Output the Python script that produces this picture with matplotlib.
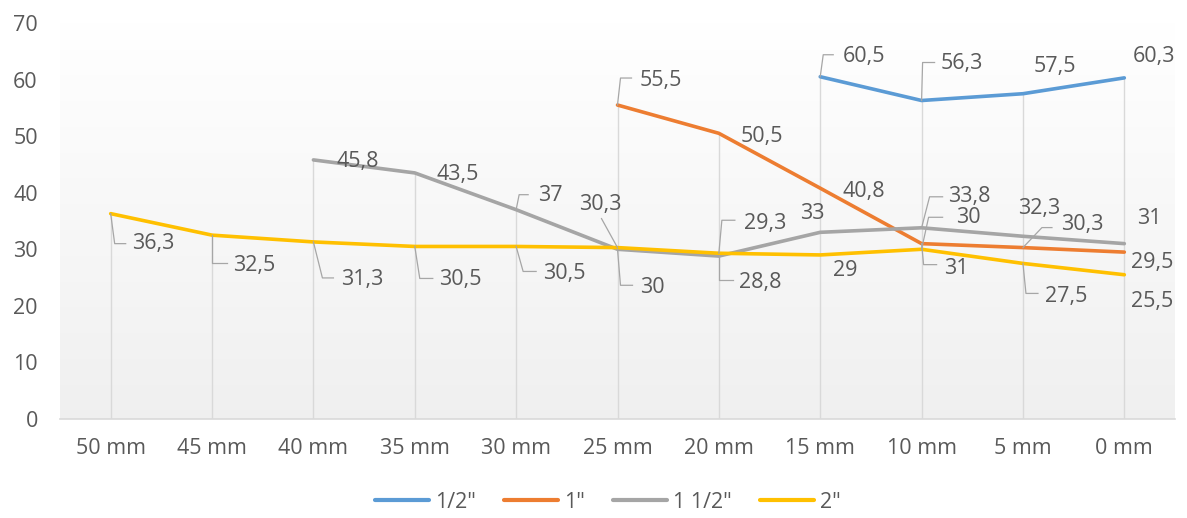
import numpy as np
import matplotlib
matplotlib.use("Agg")
import matplotlib.pyplot as plt
from matplotlib.lines import Line2D
from matplotlib.transforms import IdentityTransform

plt.rcParams['font.family'] = ['Open Sans', 'DejaVu Sans']

# ---- data ----
categories = ["50 mm", "45 mm", "40 mm", "35 mm", "30 mm", "25 mm",
              "20 mm", "15 mm", "10 mm", "5 mm", "0 mm"]
nan = np.nan
half_inch = [nan, nan, nan, nan, nan, nan, nan, 60.5, 56.3, 57.5, 60.3]
one_inch = [nan, nan, nan, nan, nan, 55.5, 50.5, 40.8, 31, 30.3, 29.5]
one_half_inch = [nan, nan, 45.8, 43.5, 37, 30, 28.8, 33, 33.8, 32.3, 31]
two_inch = [36.3, 32.5, 31.3, 30.5, 30.5, 30.3, 29.3, 29, 30, 27.5, 25.5]
series_names = ['1/2"', '1"', '1 1/2"', '2"']
series_values = [half_inch, one_inch, one_half_inch, two_inch]
colors = ["#5B9BD5", "#ED7D31", "#A5A5A5", "#FFC000"]
yticks = [0, 10, 20, 30, 40, 50, 60, 70]

# label placement: per series, per category -> (dx, dy, leader) in pixels
# (dy positive = downwards); leader is a list of elbow offsets or None
label_pos = [
    {7: (44, -20, [(3, -22), (13, -22)]),
     8: (40, -37, [(1, -38), (13, -38)]),
     9: (32, -27, None),
     10: (30, -21, None)},
    {5: (43, -25, [(3, -27), (14, -27)]),
     6: (43, 3, None),
     7: (44, 3, None),
     8: (35, 25, [(2, 21), (15, 21)]),
     9: (59, -23, [(19, -20), (29, -20)]),
     10: (28, 10, None)},
    {2: (44, 2, None),
     3: (43, 2, None),
     4: (34, -14, [(3, -15), (12, -15)]),
     5: (35, 38, [(3, 36), (15, 36)]),
     6: (41, 26, [(0, 24), (14, 24)]),
     7: (-8, -19, None),
     8: (48, -31, [(8, -31), (21, -31)]),
     9: (16, -28, None),
     10: (25, -25, None)},
    {0: (43, 30, [(4, 30), (15, 30)]),
     1: (42, 30, [(0, 28), (15, 28)]),
     2: (49, 38, [(9, 36), (20, 36)]),
     3: (46, 33, [(5, 32), (18, 32)]),
     4: (48, 27, [(7, 25), (20, 25)]),
     5: (-17, -43, [(-16, -29)]),
     6: (46, -30, [(3, -33), (16, -33)]),
     7: (25, 16, None),
     8: (47, -32, [(7, -32), (21, -32)]),
     9: (43, 33, [(3, 30), (15, 30)]),
     10: (28, 27, None)},
]

W, H = 1187, 518
fig = plt.figure(figsize=(W / 100, H / 100), dpi=100)
ax = fig.add_axes([60 / W, (H - 419) / H, (1175 - 60) / W, (419 - 23) / H])

x = np.arange(len(categories))
ax.set_xlim(-0.5, len(categories) - 0.5)
ax.set_ylim(0, 70)

# plot-area gradient: white at the top fading to light grey
grad = np.linspace(1.0, 0.0, 256).reshape(-1, 1)
top = np.array([1.0, 1.0, 1.0])
bot = np.array([0.94, 0.94, 0.94])
img = top * grad[..., None] + bot * (1 - grad[..., None])
ax.imshow(img, extent=(-0.5, len(categories) - 0.5, 0, 70), aspect='auto',
          zorder=0, interpolation='bicubic')

# drop lines from the highest point of each category to the axis
tops = np.nanmax(np.array(series_values, dtype=float), axis=0)
ax.vlines(x, 0, tops, colors="#D9D9D9", linewidth=1.0, zorder=1)

for vals, name, c in zip(series_values, series_names, colors):
    ax.plot(x, vals, color=c, linewidth=2.6, label=name, zorder=3,
            solid_capstyle='round', solid_joinstyle='round')

fs = 15.5
ax.set_xticks(x)
ax.set_xticklabels(categories)
ax.set_yticks(yticks)
ax.tick_params(axis='both', length=0, labelsize=fs, labelcolor="#595959")
ax.tick_params(axis='x', pad=14)
ax.tick_params(axis='y', pad=16)
for s in ['top', 'right', 'left']:
    ax.spines[s].set_visible(False)
ax.spines['bottom'].set_color("#D9D9D9")
ax.spines['bottom'].set_linewidth(1.2)

label_color = "#595959"
fig.canvas.draw()
for vals, pos in zip(series_values, label_pos):
    for i, (dx, dy, leader) in pos.items():
        v = vals[i]
        txt = f"{v:g}".replace('.', ',')
        ax.annotate(txt, xy=(i, v), xytext=(dx, -dy), textcoords='offset pixels',
                    ha='center', va='center', fontsize=fs, color=label_color,
                    zorder=5)
        if leader:
            px, py = ax.transData.transform((i, v))
            xs = [px] + [px + ex for ex, ey in leader]
            ys = [py] + [py - ey for ex, ey in leader]
            fig.add_artist(Line2D(xs, ys, transform=IdentityTransform(),
                                  color="#A6A6A6", linewidth=0.9, zorder=4))

leg = fig.legend(loc='center', bbox_to_anchor=(608 / W, (H - 502) / H), ncol=4,
                 frameon=False, fontsize=fs, handlelength=2.5,
                 handletextpad=0.3, columnspacing=1.3)
for t in leg.get_texts():
    t.set_color("#595959")
for l in leg.get_lines():
    l.set_linewidth(3)

fig.savefig("out.png", dpi=100, facecolor="white")
